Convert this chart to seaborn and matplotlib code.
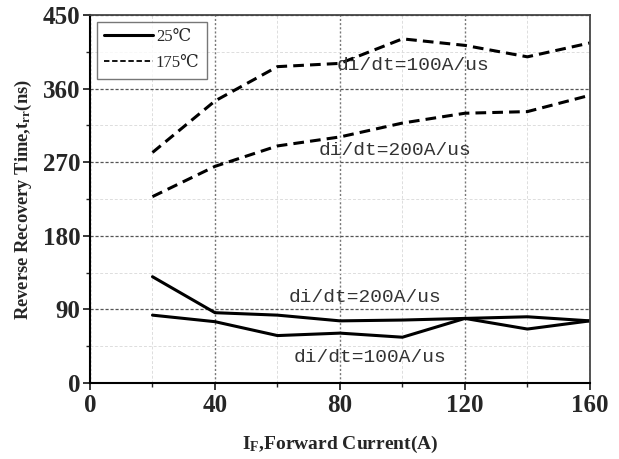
import numpy as np
import pandas as pd
import matplotlib
matplotlib.use("Agg")
import matplotlib.pyplot as plt
from matplotlib.ticker import MultipleLocator
from matplotlib.lines import Line2D
import seaborn as sns

### DATA ###
current = [20, 40, 60, 80, 100, 120, 140, 160]

trr_175_100 = [282, 345, 387, 391, 421, 413, 399, 416]
trr_175_200 = [228, 265, 290, 301, 318, 330, 332, 352]
trr_25_200 = [130, 86, 83, 76, 77, 79, 81, 76]
trr_25_100 = [83, 75, 58, 61, 56, 79, 66, 76]

series_names = ["175_100", "175_200", "25_200", "25_100"]
series_values = [trr_175_100, trr_175_200, trr_25_200, trr_25_100]

df = pd.DataFrame({
    "current": current * 4,
    "trr": sum(series_values, []),
    "series": np.repeat(series_names, len(current)),
})

### STYLE ###
sns.set_style("ticks")
plt.rcParams["font.family"] = ["Liberation Serif", "DejaVu Serif"]
plt.rcParams["mathtext.fontset"] = "custom"
plt.rcParams["mathtext.rm"] = "Liberation Serif:bold"
plt.rcParams["mathtext.bf"] = "Liberation Serif:bold"
plt.rcParams["mathtext.it"] = "Liberation Serif:bold"

fig = plt.figure(figsize=(6.19, 4.59), dpi=100)
ax = fig.add_axes([0.1454, 0.1656, 0.8076, 0.8014])

styles = {"175_100": (3.5, 2), "175_200": (3.5, 2), "25_200": "", "25_100": ""}
sns.lineplot(
    data=df, x="current", y="trr", hue="series", style="series",
    dashes=styles, palette=["black"] * 4, linewidth=2.2,
    legend=False, ax=ax,
)

### AXES ###
ax.set_xlim(0, 160)
ax.set_ylim(0, 450)
ax.xaxis.set_major_locator(MultipleLocator(40))
ax.xaxis.set_minor_locator(MultipleLocator(20))
ax.yaxis.set_major_locator(MultipleLocator(90))
ax.yaxis.set_minor_locator(MultipleLocator(45))

ax.grid(which="major", axis="x", color="#777777", linestyle=(0, (1.5, 1.5)), linewidth=1.0)
ax.grid(which="major", axis="y", color="#555555", linestyle=(0, (2.5, 1.5)), linewidth=0.9)
ax.grid(which="minor", color="#dddddd", linestyle=(0, (3, 2)), linewidth=0.7)

ax.tick_params(which="major", direction="out", length=5, width=1.3, labelsize=18)
ax.tick_params(axis="y", which="major", pad=2)
ax.tick_params(axis="x", which="major", pad=3)
ax.tick_params(which="minor", direction="out", length=3, width=1.0)
for lbl in ax.get_xticklabels() + ax.get_yticklabels():
    lbl.set_fontweight("bold")

for side in ["left", "bottom"]:
    ax.spines[side].set_linewidth(1.5)
    ax.spines[side].set_color("black")
for side in ["top", "right"]:
    ax.spines[side].set_linewidth(1.3)
    ax.spines[side].set_color("#444444")

ax.set_xlabel(r"I$_{\mathrm{F}}$,Forward Current(A)", fontsize=14, fontweight="bold", labelpad=12)
ax.set_ylabel(r"Reverse Recovery Time,t$_{\mathrm{rr}}$(ns)", fontsize=13.3, fontweight="bold", labelpad=6)

### ANNOTATIONS ###
ann_kw = dict(fontsize=14, family=["Liberation Mono", "DejaVu Sans Mono"], color="#333333",
              ha="center", va="center")
ax.text(103.5, 388, "di/dt=100A/us", **ann_kw)
ax.text(97.5, 285, "di/dt=200A/us", **ann_kw)
ax.text(88, 104, "di/dt=200A/us", **ann_kw)
ax.text(89.5, 31, "di/dt=100A/us", **ann_kw)

### LEGEND ###
handles = [
    Line2D([], [], color="black", linewidth=2.2),
    Line2D([], [], color="black", linewidth=1.3, dashes=(3, 1.5)),
]
leg = ax.legend(handles, ["25℃", "175℃"], loc="upper left",
                frameon=True, fancybox=False, edgecolor="#555555",
                handlelength=2.9, handletextpad=0.2, borderpad=0.45,
                labelspacing=0.6, borderaxespad=0.4,
                prop={"family": ["Liberation Serif", "DejaVu Serif"], "size": 12})
leg.get_frame().set_linewidth(1.0)

fig.savefig("out.png", dpi=100)
